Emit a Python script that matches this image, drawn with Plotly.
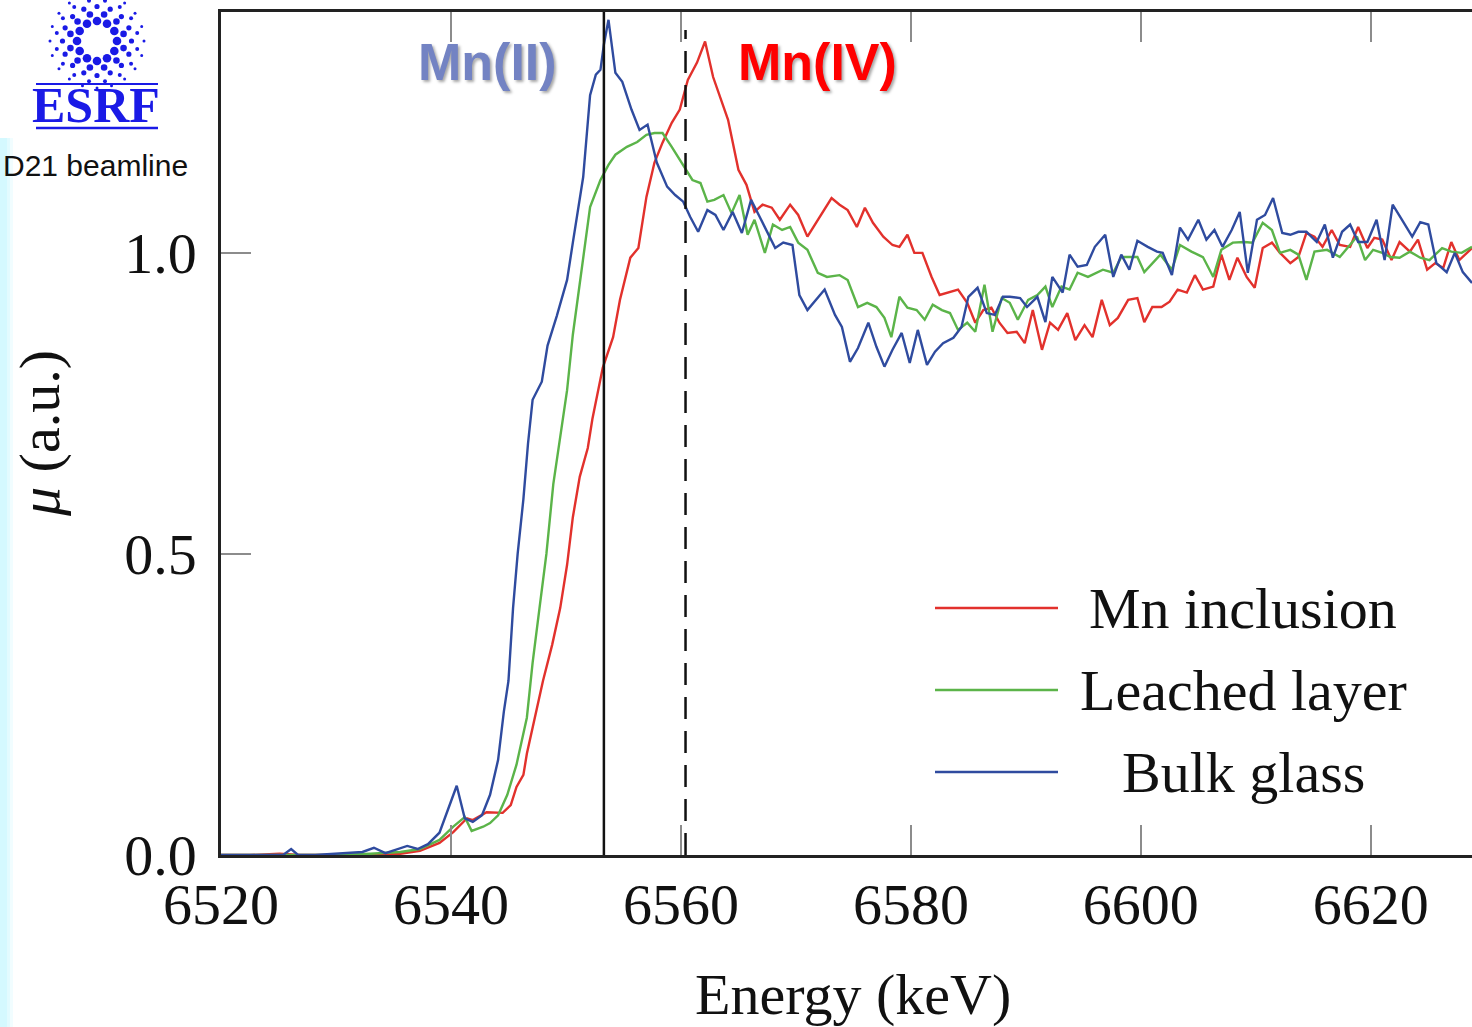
import plotly.graph_objects as go
import math

# ---------------- data ----------------
energy_inclusion = [6520.0, 6522.5, 6525.1, 6526.9, 6531.2, 6535.6, 6537.3, 6539.0, 6540.2, 6541.4,
                    6541.9, 6543.1, 6544.5, 6545.2, 6545.7, 6546.3, 6546.6, 6547.3, 6548.0, 6548.8,
                    6549.5, 6550.1, 6550.6, 6551.2, 6551.9, 6552.3, 6553.2, 6554.1, 6554.7, 6555.6,
                    6556.3, 6557.0, 6557.7, 6558.4, 6559.2, 6559.9, 6560.6, 6561.4, 6562.1, 6562.8,
                    6563.4, 6564.1, 6565.0, 6565.7, 6566.4, 6567.1, 6567.9, 6568.6, 6569.5, 6570.2,
                    6571.0, 6572.1, 6573.1, 6573.8, 6574.5, 6575.3, 6576.0, 6576.7, 6577.6, 6578.4,
                    6579.0, 6579.7, 6580.3, 6581.0, 6581.8, 6582.5, 6583.4, 6584.1, 6584.9, 6585.6,
                    6586.3, 6587.0, 6587.7, 6588.4, 6589.2, 6589.9, 6590.6, 6591.4, 6592.1, 6592.8,
                    6593.6, 6594.3, 6595.1, 6595.8, 6596.6, 6597.3, 6598.0, 6598.9, 6599.7, 6600.3,
                    6601.0, 6601.8, 6602.5, 6603.2, 6604.0, 6604.7, 6605.4, 6606.3, 6607.0, 6607.7,
                    6608.4, 6609.2, 6609.9, 6610.6, 6611.4, 6612.1, 6613.0, 6613.7, 6614.4, 6615.1,
                    6615.8, 6616.6, 6617.3, 6618.2, 6618.9, 6619.7, 6620.3, 6621.0, 6621.8, 6622.5,
                    6623.4, 6624.1, 6624.9, 6625.6, 6626.3, 6627.0, 6627.7, 6628.8]
mu_inclusion = [0.000, 0.000, 0.002, 0.000, 0.000, 0.002, 0.007, 0.020, 0.038, 0.061,
                0.058, 0.071, 0.070, 0.083, 0.113, 0.133, 0.168, 0.228, 0.289, 0.349,
                0.410, 0.482, 0.561, 0.628, 0.676, 0.724, 0.809, 0.860, 0.922, 0.992,
                1.008, 1.093, 1.150, 1.183, 1.216, 1.238, 1.287, 1.316, 1.351, 1.292,
                1.259, 1.221, 1.138, 1.113, 1.068, 1.080, 1.075, 1.055, 1.080, 1.063,
                1.027, 1.060, 1.091, 1.080, 1.071, 1.043, 1.075, 1.050, 1.027, 1.013,
                1.010, 1.030, 1.000, 1.000, 0.960, 0.930, 0.935, 0.939, 0.917, 0.884,
                0.905, 0.909, 0.884, 0.867, 0.869, 0.850, 0.905, 0.839, 0.884, 0.872,
                0.900, 0.855, 0.880, 0.860, 0.922, 0.880, 0.892, 0.922, 0.925, 0.885,
                0.910, 0.910, 0.919, 0.939, 0.934, 0.963, 0.939, 0.944, 0.997, 0.955,
                0.992, 0.960, 0.942, 1.008, 1.017, 1.000, 0.983, 0.993, 1.033, 1.027,
                1.010, 1.038, 1.013, 1.010, 1.043, 1.008, 1.025, 1.022, 0.988, 1.018,
                1.002, 1.022, 0.972, 0.983, 0.975, 1.018, 0.988, 1.008]

energy_leached = [6520.0, 6523.4, 6526.9, 6530.3, 6533.0, 6535.6, 6537.3, 6539.0, 6540.2, 6541.2,
                  6541.8, 6542.8, 6543.4, 6544.1, 6544.9, 6545.7, 6546.6, 6547.1, 6547.7, 6548.3,
                  6548.9, 6549.5, 6550.1, 6550.6, 6551.0, 6551.7, 6552.1, 6553.0, 6553.7, 6554.3,
                  6555.3, 6556.2, 6557.0, 6557.7, 6558.4, 6559.2, 6560.3, 6561.0, 6561.7, 6562.3,
                  6562.9, 6563.7, 6564.4, 6565.1, 6565.8, 6566.4, 6567.3, 6568.0, 6568.8, 6569.5,
                  6570.2, 6571.0, 6571.9, 6572.7, 6573.8, 6574.5, 6575.4, 6576.2, 6577.0, 6577.7,
                  6578.3, 6579.0, 6579.7, 6580.5, 6581.2, 6581.9, 6582.7, 6583.4, 6584.1, 6584.9,
                  6585.6, 6586.4, 6587.1, 6587.9, 6588.6, 6589.3, 6590.2, 6591.0, 6591.7, 6592.3,
                  6593.1, 6593.8, 6594.5, 6595.4, 6596.7, 6597.6, 6598.3, 6599.7, 6600.3, 6601.7,
                  6602.7, 6603.4, 6604.4, 6605.4, 6606.3, 6607.0, 6608.0, 6609.0, 6609.7, 6610.6,
                  6611.4, 6612.1, 6613.0, 6613.7, 6614.4, 6615.1, 6616.2, 6617.3, 6618.8, 6619.5,
                  6620.2, 6621.0, 6621.7, 6622.5, 6623.4, 6624.3, 6625.1, 6626.2, 6627.0, 6627.9,
                  6628.8]
mu_leached = [0.000, 0.000, 0.000, 0.000, 0.002, 0.005, 0.010, 0.025, 0.047, 0.063,
              0.040, 0.047, 0.053, 0.066, 0.100, 0.150, 0.228, 0.319, 0.410, 0.500,
              0.616, 0.694, 0.772, 0.864, 0.922, 1.022, 1.076, 1.121, 1.146, 1.163,
              1.176, 1.184, 1.196, 1.199, 1.199, 1.176, 1.143, 1.121, 1.116, 1.085,
              1.088, 1.096, 1.066, 1.096, 1.030, 1.055, 1.000, 1.047, 1.038, 1.043,
              1.017, 1.005, 0.967, 0.960, 0.963, 0.955, 0.910, 0.917, 0.910, 0.892,
              0.860, 0.927, 0.909, 0.905, 0.889, 0.914, 0.905, 0.900, 0.872, 0.884,
              0.869, 0.947, 0.869, 0.925, 0.917, 0.889, 0.922, 0.930, 0.944, 0.910,
              0.944, 0.939, 0.967, 0.960, 0.972, 0.967, 0.993, 0.993, 0.968, 0.997,
              0.972, 1.013, 1.002, 0.993, 0.960, 1.005, 1.017, 1.018, 1.017, 1.050,
              1.038, 1.000, 1.005, 0.997, 0.955, 1.002, 1.005, 0.993, 1.027, 0.988,
              1.005, 1.000, 0.993, 0.992, 1.002, 0.992, 0.988, 1.008, 1.002, 1.000,
              1.010]

energy_bulk = [6520.0, 6521.2, 6522.5, 6523.8, 6525.4, 6526.1, 6526.7, 6528.2, 6529.9, 6531.2,
               6532.3, 6533.3, 6534.3, 6535.1, 6536.2, 6537.1, 6538.0, 6539.0, 6539.9, 6540.5,
               6541.2, 6541.9, 6542.7, 6543.4, 6544.1, 6544.6, 6545.0, 6545.4, 6545.8, 6546.3,
               6546.7, 6547.1, 6547.9, 6548.4, 6549.2, 6550.1, 6550.6, 6551.5, 6552.1, 6552.6,
               6553.0, 6553.3, 6553.7, 6554.3, 6554.9, 6555.7, 6556.4, 6557.1, 6557.9, 6558.8,
               6559.5, 6560.2, 6560.8, 6561.5, 6562.3, 6563.0, 6563.7, 6564.5, 6565.3, 6566.1,
               6566.9, 6568.2, 6568.9, 6569.7, 6570.3, 6571.0, 6572.5, 6573.4, 6574.0, 6574.7,
               6575.4, 6576.3, 6577.0, 6577.7, 6578.4, 6579.2, 6579.9, 6580.6, 6581.4, 6582.1,
               6582.8, 6583.7, 6584.4, 6585.0, 6585.8, 6586.6, 6587.3, 6588.0, 6588.6, 6589.5,
               6590.1, 6591.0, 6591.7, 6592.3, 6593.2, 6593.8, 6594.5, 6595.3, 6596.0, 6596.9,
               6597.6, 6598.3, 6599.0, 6599.7, 6600.6, 6601.4, 6601.9, 6602.7, 6603.4, 6604.1,
               6605.0, 6605.7, 6606.4, 6607.1, 6607.9, 6608.6, 6609.3, 6610.1, 6610.8, 6611.5,
               6612.3, 6613.0, 6613.7, 6614.4, 6615.3, 6616.0, 6616.7, 6617.5, 6618.2, 6618.9,
               6619.7, 6620.5, 6621.2, 6621.9, 6622.7, 6623.6, 6624.3, 6625.0, 6625.7, 6626.6,
               6627.3, 6628.0, 6628.8]
mu_bulk = [0.000, 0.000, 0.000, 0.000, 0.000, 0.010, 0.000, 0.000, 0.002, 0.003,
           0.005, 0.012, 0.003, 0.008, 0.015, 0.010, 0.018, 0.037, 0.083, 0.115,
           0.061, 0.055, 0.066, 0.100, 0.158, 0.238, 0.289, 0.410, 0.500, 0.591,
           0.683, 0.756, 0.786, 0.846, 0.895, 0.955, 1.017, 1.126, 1.262, 1.296,
           1.304, 1.346, 1.387, 1.299, 1.284, 1.238, 1.204, 1.213, 1.150, 1.110,
           1.096, 1.085, 1.060, 1.035, 1.071, 1.063, 1.038, 1.068, 1.033, 1.088,
           1.058, 1.008, 1.017, 1.013, 0.930, 0.905, 0.939, 0.897, 0.877, 0.819,
           0.842, 0.884, 0.844, 0.811, 0.839, 0.867, 0.817, 0.872, 0.814, 0.836,
           0.850, 0.859, 0.877, 0.927, 0.942, 0.900, 0.897, 0.927, 0.927, 0.925,
           0.910, 0.927, 0.885, 0.960, 0.934, 0.997, 0.977, 0.980, 1.010, 1.030,
           0.960, 0.997, 0.972, 1.020, 1.010, 1.002, 1.000, 0.963, 1.042, 1.022,
           1.055, 1.022, 1.038, 1.010, 1.038, 1.068, 0.967, 1.055, 1.063, 1.091,
           1.033, 1.030, 1.035, 1.035, 1.018, 1.047, 0.992, 1.035, 1.047, 1.018,
           1.018, 1.055, 0.988, 1.080, 1.055, 1.027, 1.051, 1.047, 0.983, 0.968,
           1.000, 0.968, 0.950]

series_names = ["Mn inclusion", "Leached layer", "Bulk glass"]
series_colors = ["#E2312C", "#5BB449", "#2F4B9F"]
x_tick_values = [6520, 6540, 6560, 6580, 6600, 6620]
y_tick_values = [0.0, 0.5, 1.0]
y_tick_labels = ["0.0", "0.5", "1.0"]
mn2_energy = 6553.3
mn4_energy = 6560.4
x_range = [6520, 6628.8]
y_range = [0, 1.4]

# ---------------- layout helpers ----------------
W, H = 1472, 1027
ML, MT, MB, MR = 221, 12, 172, 0
PW, PH = W - ML - MR, H - MT - MB


def fx(px):
    return (px - ML) / PW


def fy(py):
    return (H - MB - py) / PH


SERIF = "Liberation Serif, Times New Roman, serif"
SANS = "Liberation Sans, Arial, sans-serif"

fig = go.Figure()
for e, m, name, col in [(energy_inclusion, mu_inclusion, series_names[0], series_colors[0]),
                        (energy_leached, mu_leached, series_names[1], series_colors[1]),
                        (energy_bulk, mu_bulk, series_names[2], series_colors[2])]:
    fig.add_trace(go.Scatter(x=e, y=m, mode="lines", name=name,
                             line=dict(color=col, width=2.4)))

shapes = []
# reference edge lines
shapes.append(dict(type="line", xref="x", yref="paper", x0=mn2_energy, x1=mn2_energy,
                   y0=0, y1=1, line=dict(color="#111111", width=2.5)))
shapes.append(dict(type="line", xref="x", yref="paper", x0=mn4_energy, x1=mn4_energy,
                   y0=0, y1=fy(30), line=dict(color="#111111", width=2.5, dash="22px,12px")))

# legend (manual, centred text like the original)
leg_y = [608, 690, 772]
for yy, col in zip(leg_y, series_colors):
    shapes.append(dict(type="line", xref="paper", yref="paper", x0=fx(935), x1=fx(1058),
                       y0=fy(yy), y1=fy(yy), line=dict(color=col, width=2.5)))

# left light-cyan strip
for x0, x1, c in [(0, 7, "#D4F9FF"), (7, 10, "#E2FBFF"), (10, 13, "#F1FDFF")]:
    shapes.append(dict(type="rect", xref="paper", yref="paper", x0=fx(x0), x1=fx(x1),
                       y0=fy(1027), y1=fy(138), line=dict(width=0), fillcolor=c, layer="below"))

# ESRF logo: rings of dots and two rules
cx, cy = 97, 41
rings = [(20, 4.3, 12, 0.0), (27.5, 3.3, 12, 0.5), (34.5, 2.6, 16, 0.0), (41, 2.0, 16, 0.5), (47, 1.5, 20, 0.0)]
logo_blue = "#1A1AE6"
for r, dr, n, off in rings:
    for k in range(n):
        a = 2 * math.pi * (k + off) / n
        xx = cx + r * math.cos(a)
        yy = cy + r * math.sin(a)
        shapes.append(dict(type="circle", xref="paper", yref="paper",
                           x0=fx(xx - dr), x1=fx(xx + dr), y0=fy(yy + dr), y1=fy(yy - dr),
                           fillcolor=logo_blue, line=dict(width=0)))
for yy, w in [(84, 2.2), (128, 2.6)]:
    shapes.append(dict(type="line", xref="paper", yref="paper", x0=fx(36), x1=fx(158),
                       y0=fy(yy), y1=fy(yy), line=dict(color=logo_blue, width=w)))

annotations = []
for yy, name in zip(leg_y, series_names):
    annotations.append(dict(xref="paper", yref="paper", x=fx(1243), y=fy(yy), text=name,
                            showarrow=False, xanchor="center", yanchor="middle",
                            font=dict(family=SERIF, size=58, color="#111111")))
annotations.append(dict(xref="paper", yref="paper", x=fx(487), y=fy(62), text="<b>Mn(II)</b>",
                        showarrow=False, xanchor="center", yanchor="middle",
                        font=dict(family=SANS, size=52, color="#7383C3",
                                  shadow="2px 2px 3px rgba(0,0,0,0.35)")))
annotations.append(dict(xref="paper", yref="paper", x=fx(817), y=fy(62), text="<b>Mn(IV)</b>",
                        showarrow=False, xanchor="center", yanchor="middle",
                        font=dict(family=SANS, size=52, color="#FF0000",
                                  shadow="2px 2px 3px rgba(0,0,0,0.35)")))
annotations.append(dict(xref="paper", yref="paper", x=fx(853), y=fy(995), text="Energy (keV)",
                        showarrow=False, xanchor="center", yanchor="middle",
                        font=dict(family=SERIF, size=58, color="#111111")))
annotations.append(dict(xref="paper", yref="paper", x=fx(40), y=fy(434), text="<i>μ</i> (a.u.)",
                        showarrow=False, xanchor="center", yanchor="middle", textangle=-90,
                        font=dict(family=SERIF, size=58, color="#111111")))
annotations.append(dict(xref="paper", yref="paper", x=fx(96), y=fy(105), text="<b>ESRF</b>",
                        showarrow=False, xanchor="center", yanchor="middle",
                        font=dict(family=SERIF, size=50, color=logo_blue)))
annotations.append(dict(xref="paper", yref="paper", x=fx(1), y=fy(166), text="D21 beamline",
                        showarrow=False, xanchor="left", yanchor="middle",
                        font=dict(family=SANS, size=30, color="#111111")))

fig.update_layout(
    width=W, height=H,
    margin=dict(l=ML, r=MR, t=MT, b=MB, pad=0),
    paper_bgcolor="white", plot_bgcolor="white",
    showlegend=False,
    shapes=shapes, annotations=annotations,
    xaxis=dict(range=x_range, showgrid=False, zeroline=False, showline=True,
               linecolor="#222222", linewidth=2.5, mirror="ticks",
               ticks="inside", ticklen=30, tickwidth=1.5, tickcolor="#8C8C8C",
               tickvals=x_tick_values, ticklabelstandoff=-3,
               tickfont=dict(family=SERIF, size=58, color="#111111")),
    yaxis=dict(range=y_range, showgrid=False, zeroline=False, showline=True,
               linecolor="#222222", linewidth=2.5,
               ticks="inside", ticklen=30, tickwidth=1.5, tickcolor="#8C8C8C",
               tickvals=y_tick_values, ticktext=y_tick_labels, ticklabelstandoff=10,
               tickfont=dict(family=SERIF, size=58, color="#111111")),
)

fig.write_html("out.html")
